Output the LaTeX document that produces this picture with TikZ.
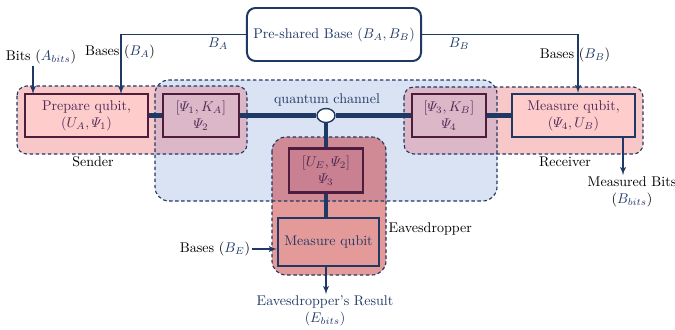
\documentclass[tikz,border=0pt]{standalone}
\usepackage{amsmath}
\usepackage{xcolor}
\usepackage{tikz}
\usetikzlibrary{shapes,arrows,calc}
\definecolor{navy}{HTML}{1F3864}
\definecolor{chanblue}{HTML}{DAE3F3}
\definecolor{rosy}{HTML}{F8C8C8}
\definecolor{rosybox}{HTML}{FFCCCC}
\definecolor{mauve}{HTML}{DBB7C8}
\definecolor{evetop}{HTML}{CF8A95}
\definecolor{evelow}{HTML}{E59A9A}
\definecolor{evebox}{HTML}{C98090}
\definecolor{maroon}{HTML}{4E1D3D}
\definecolor{boxtext}{HTML}{4B2A55}
\tikzstyle{qubitBlock} = [rectangle, draw=maroon, line width=1.5pt, fill=rosybox, text=boxtext,
    align=center, minimum width=3.075cm, minimum height=1.075cm, inner sep=1pt]
\tikzstyle{stateBlock} = [qubitBlock, fill=mauve, minimum width=1.9cm]
\tikzstyle{baseBlock} = [rectangle, rounded corners=6pt, draw=navy, line width=1.4pt, fill=white,
    text=navy, minimum width=4.35cm, minimum height=1.325cm]
\tikzstyle{tap} = [draw=navy, ellipse, fill=white, line width=1pt, minimum width=0.45cm,
    minimum height=0.35cm, inner sep=0pt]
\tikzstyle{line} = [draw=navy, line width=1pt, -latex']
\tikzstyle{qline} = [draw=navy, line width=3.5pt]
\tikzstyle{region} = [draw=navy, dash pattern=on 2.5pt off 1.8pt, line width=0.8pt]
\tikzstyle{lbl} = [text=black, inner sep=1pt]
\newcommand{\nv}[1]{\textcolor{navy}{$#1$}}

\begin{document}
\begin{tikzpicture}[x=0.025cm, y=-0.025cm]
    \useasboundingbox (0,0) rectangle (675,329);
    % Region corners
    \coordinate (chanA) at (155,80);  \coordinate (chanB) at (497,201);
    \coordinate (sndA) at (17,86);    \coordinate (sndB) at (247,154);
    \coordinate (rcvA) at (404,87);   \coordinate (rcvB) at (643,154);
    \coordinate (eveA) at (272,137);  \coordinate (eveB) at (386,275);
    % Fill regions
    \fill [chanblue, rounded corners=10pt] (chanA) rectangle (chanB);
    \fill [rosy, rounded corners=7pt] (sndA) rectangle (sndB);
    \fill [rosy, rounded corners=7pt] (rcvA) rectangle (rcvB);
    \fill [evelow, rounded corners=10pt] (eveA) rectangle (eveB);
    \begin{scope}
        \clip [rounded corners=10pt] (chanA) rectangle (chanB);
        \fill [mauve, rounded corners=7pt] (sndA) rectangle (sndB);
        \fill [mauve, rounded corners=7pt] (rcvA) rectangle (rcvB);
        \fill [evetop, rounded corners=10pt] (eveA) rectangle (eveB);
    \end{scope}
    \draw [region, rounded corners=10pt] (chanA) rectangle (chanB);
    \draw [region, rounded corners=7pt] (sndA) rectangle (sndB);
    \draw [region, rounded corners=7pt] (rcvA) rectangle (rcvB);
    \draw [region, rounded corners=10pt] (eveA) rectangle (eveB);
    % Place nodes
    \node [baseBlock] (preshared) at (334,34.5) {Pre-shared Base ($B_A, B_B$)};
    \node [qubitBlock] (prep) at (86.5,115.5) {Prepare qubit,\\ $(U_A, \varPsi_1)$};
    \node [stateBlock] (psi2) at (201,115.5) {$[\varPsi_1, K_A]$\\ $\varPsi_2$};
    \node [tap] (tap) at (326,115.5) {};
    \node [stateBlock, minimum width=1.85cm] (psi4) at (449,115.5) {$[\varPsi_3, K_B]$\\ $\varPsi_4$};
    \node [qubitBlock, draw=navy] (meas) at (573.5,115.5) {Measure qubit,\\ $(\varPsi_4, U_B)$};
    \node [stateBlock, fill=evebox, minimum width=1.85cm, minimum height=1.1cm] (psi3) at (326,170.5) {$[U_E, \varPsi_2]$\\ $\varPsi_3$};
    \node [qubitBlock, fill=evelow, draw=navy, text=navy, minimum width=2.525cm, minimum height=1.2cm] (evemeas) at (328.5,242) {Measure qubit};
    % Labels
    \node [lbl, text=navy] (qch) at (327,100) {quantum channel};
    \node [lbl] (sender) at (93,162) {Sender};
    \node [lbl] (receiver) at (565,162) {Receiver};
    \node [lbl, anchor=west] (eve) at (387,229) {Eavesdropper};
    \node [lbl] (bits) at (41,57) {Bits (\nv{A_{bits}})};
    \node [lbl] (basesA) at (120,52) {Bases (\nv{B_A})};
    \node [lbl] (basesB) at (575,55) {Bases (\nv{B_B})};
    \node [lbl] (basesE) at (215,249) {Bases (\nv{B_E})};
    \node [lbl] (kA) at (218,44) {\nv{B_A}};
    \node [lbl] (kB) at (459,44) {\nv{B_B}};
    \node [lbl, align=center] (mbits) at (632,192) {Measured Bits\\ (\nv{B_{bits}})};
    \node [lbl, text=navy, align=center] (result) at (325,311) {Eavesdropper's Result\\ ($E_{bits}$)};
    \coordinate (bitsin) at (33,94);
    \coordinate (baseAin) at (121,94);
    \coordinate (baseBin) at (578,93);
    \coordinate (mout) at (623,137);
    % Draw edges
    \draw [qline] (prep) -- (psi2);
    \draw [qline] (psi2) -- (tap);
    \draw [qline] (tap) -- (psi4);
    \draw [qline] (psi4) -- (meas);
    \draw [qline] (tap) -- (psi3);
    \draw [qline] (psi3) -- (psi3 |- evemeas.north);
    \path [line] (preshared.west) -| (baseAin);
    \path [line] (preshared.east) -| (baseBin);
    \path [line] (bitsin |- bits.south) -- (bitsin);
    \path [line] (mout) -- (mout |- mbits.north);
    \path [line] (basesE.east) -- (basesE.east -| evemeas.west);
    \path [line] (evemeas.south -| psi3) -- (result.north -| psi3);
\end{tikzpicture}
\end{document}
